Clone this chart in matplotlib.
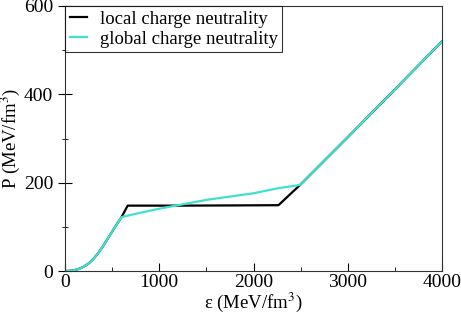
import matplotlib
matplotlib.use("Agg")
import matplotlib.pyplot as plt
from matplotlib.ticker import MultipleLocator

plt.rcParams['font.family'] = ['Liberation Serif', 'DejaVu Serif']
plt.rcParams['mathtext.fontset'] = 'stix'

# low density part shared by both curves
eps_low = [0, 50, 100, 150, 200, 250, 300, 350, 400, 450, 500, 550, 600]
p_low = [0, 0.3, 2, 5, 10, 17, 27, 40, 55, 72, 89, 106, 122]

# local charge neutrality (Maxwell construction)
eps_local = eps_low + [665, 1200, 1800, 2265, 2495, 3000, 3500, 4000]
p_local = p_low + [148, 148, 148.5, 149, 195, 303, 411, 520]

# global charge neutrality (mixed phase)
eps_global = eps_low + [800, 1000, 1200, 1500, 1800, 2000, 2250, 2495, 3000, 3500, 4000]
p_global = p_low + [132, 141, 149, 161, 170, 176, 187, 195, 303, 411, 520]

fig = plt.figure(figsize=(4.61, 3.15), dpi=100)
ax = fig.add_axes([65/461, 1-271/315, 377/461, 265/315])

ax.plot(eps_local, p_local, color='black', lw=1.6, label='local charge neutrality')
ax.plot(eps_global, p_global, color='#40E0D0', lw=1.6, label='global charge neutrality')

ax.set_xlim(0, 4000)
ax.set_ylim(0, 600)
ax.xaxis.set_major_locator(MultipleLocator(1000))
ax.xaxis.set_minor_locator(MultipleLocator(500))
ax.yaxis.set_major_locator(MultipleLocator(200))
ax.yaxis.set_minor_locator(MultipleLocator(100))
ax.tick_params(axis='x', which='both', direction='in', labelsize=14, pad=2)
ax.tick_params(axis='x', which='major', length=6)
ax.tick_params(axis='x', which='minor', length=3)
ax.tick_params(axis='y', which='both', direction='inout', labelsize=14)
ax.tick_params(axis='y', which='major', length=10)
ax.tick_params(axis='y', which='minor', length=5)
for s in ax.spines.values():
    s.set_linewidth(0.8)
    s.set_color('#333333')

ax.set_xlabel(r'ε (MeV/fm$^3$)', fontsize=13.5, labelpad=0)
ax.set_ylabel(r'P (MeV/fm$^3$)', fontsize=13.5, labelpad=1)

leg = ax.legend(loc='upper left', fontsize=13.5, frameon=True, fancybox=False,
                edgecolor='black', handlelength=0.9, handletextpad=0.7,
                borderaxespad=0, labelspacing=0.15, borderpad=0.25)
leg.get_frame().set_linewidth(0.8)

fig.savefig('out.png', dpi=100)
